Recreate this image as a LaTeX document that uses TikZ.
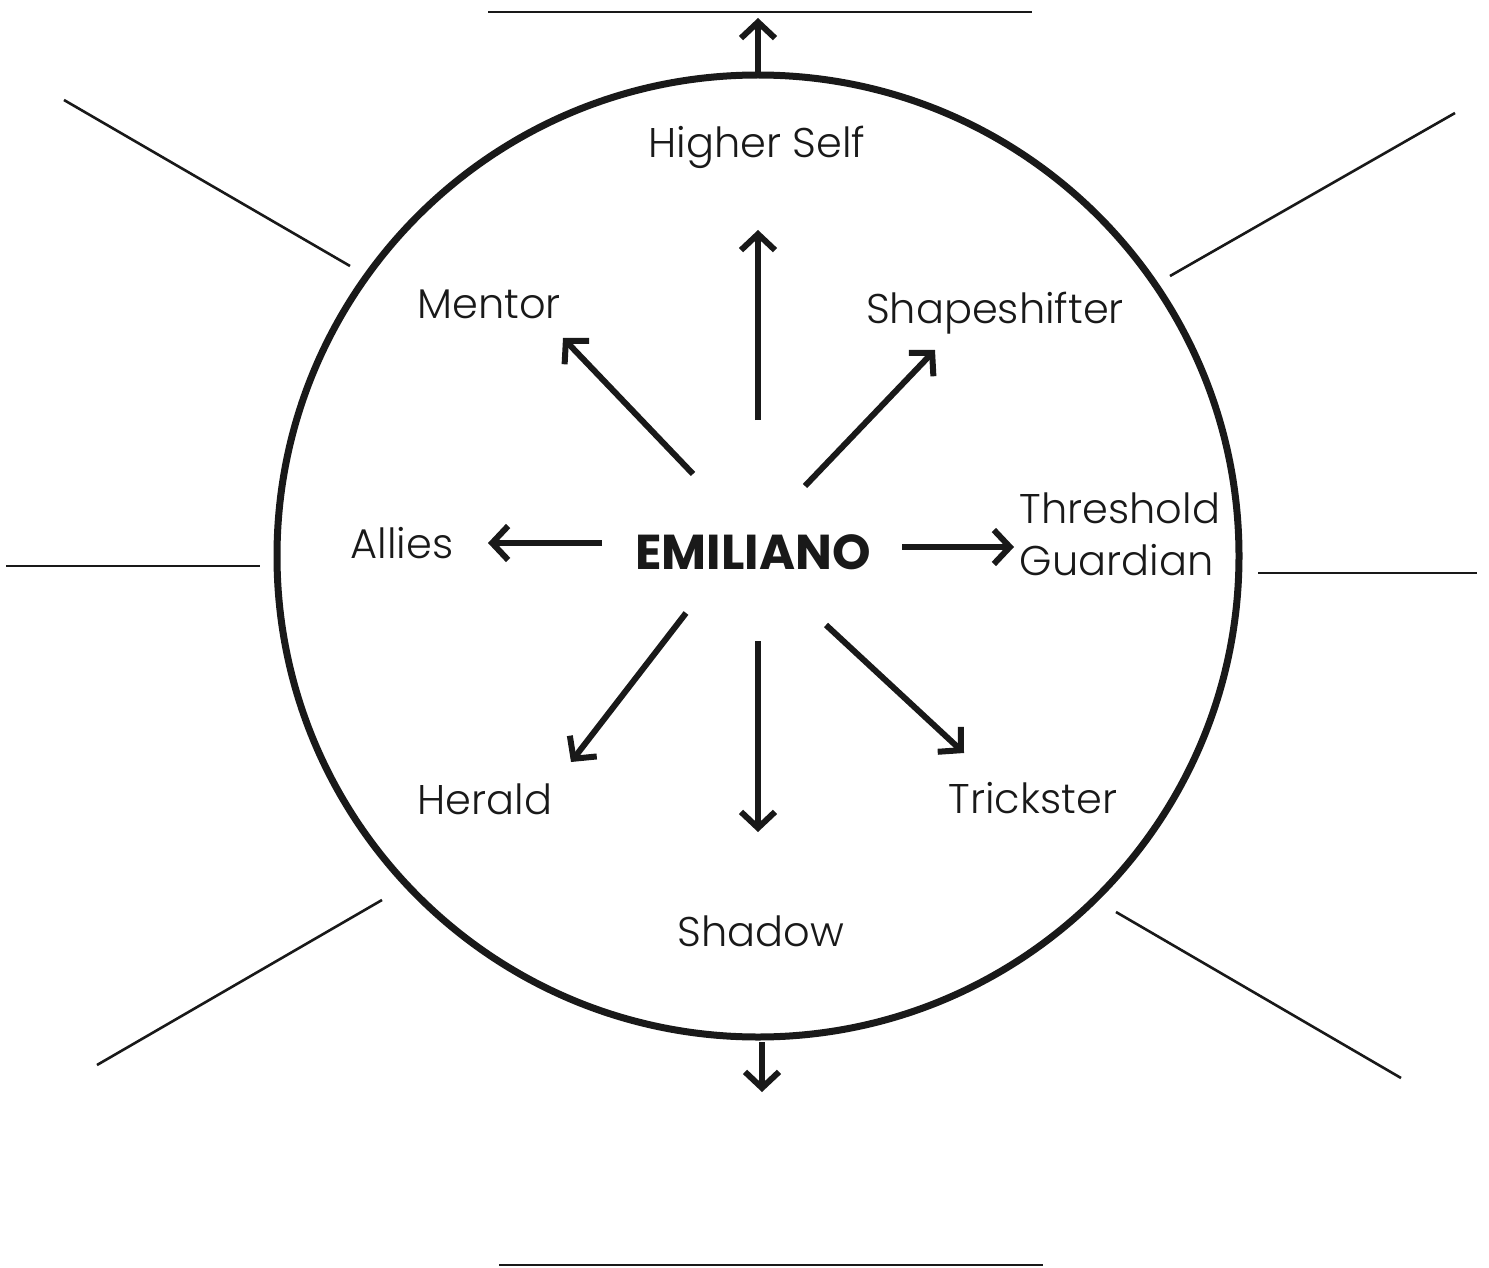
\documentclass[tikz,border=0pt]{standalone}
\usepackage{fontspec}
\setmainfont{Poppins}[UprightFont={* Light}, BoldFont={* Bold}]
\usetikzlibrary{arrows.meta}
\begin{document}
\begin{tikzpicture}[x=1pt,y=-1pt,
  thin line/.style={line width=2.6pt, draw=black!90},
  ray/.style={line width=6pt, draw=black!90, -{Straight Barb[length=16pt,width=34pt,line join=miter,line cap=butt]}},
  lbl/.style={font=\fontsize{41.5}{52}\selectfont, text=black!90, inner sep=0pt},
]
\useasboundingbox (0,0) rectangle (1489,1268);
\node[draw=black!90, line width=7pt, circle, minimum size=962pt, inner sep=0pt] (c) at (758,556) {};
% outer lines
\draw[thin line] (488,12) coordinate (t1) -- (1032,12) coordinate (t2);
\draw[thin line] (499,1265) coordinate (b1) -- (1043,1265) coordinate (b2);
\draw[thin line] (64,100) coordinate (ul1) -- (350,266) coordinate (ul2);
\draw[thin line] (1455,113) coordinate (ur1) -- (1170,276) coordinate (ur2);
\draw[thin line] (6,566) coordinate (l1) -- (260,566) coordinate (l2);
\draw[thin line] (1258,573) coordinate (r1) -- (1477,573) coordinate (r2);
\draw[thin line] (382,900) coordinate (ll1) -- (97,1065) coordinate (ll2);
\draw[thin line] (1116,912) coordinate (lr1) -- (1401,1078) coordinate (lr2);
% outer arrows
\coordinate (ta0) at (758,72); \coordinate (ta1) at (758,18);
\coordinate (ba0) at (762,1042); \coordinate (ba1) at (762,1092);
\draw[ray] (ta0) -- (ta1);
\draw[ray] (ba0) -- (ba1);
% labels
\node[lbl, font=\bfseries\fontsize{49}{52}\selectfont] (hero) at (753,552) {EMILIANO};
\node[lbl] (higher) at (757,147) {Higher Self};
\node[lbl] (mentor) at (489,304) {Mentor};
\node[lbl] (shape) at (995,313) {Shapeshifter};
\node[lbl] (allies) at (402,543) {Allies};
\node[lbl, align=left] (thresh) at (1120,534) {Threshold\\Guardian};
\node[lbl] (herald) at (485,799) {Herald};
\node[lbl] (trick) at (1033,798) {Trickster};
\node[lbl] (shadow) at (761,931) {Shadow};
% inner arrows
\coordinate (u0) at (758,420); \coordinate (u1) at (758,230);
\coordinate (m0) at (693,474); \coordinate (m1) at (563,338);
\coordinate (s0) at (805,486); \coordinate (s1) at (935,350);
\coordinate (a0) at (602,543); \coordinate (a1) at (488,543);
\coordinate (g0) at (902,547); \coordinate (g1) at (1014,547);
\coordinate (h0) at (686,613); \coordinate (h1) at (571,762);
\coordinate (d0) at (758,641); \coordinate (d1) at (758,832);
\coordinate (k0) at (826,625); \coordinate (k1) at (964,753);
\draw[ray] (u0) -- (u1);
\draw[ray] (m0) -- (m1);
\draw[ray] (s0) -- (s1);
\draw[ray] (a0) -- (a1);
\draw[ray] (g0) -- (g1);
\draw[ray] (h0) -- (h1);
\draw[ray] (d0) -- (d1);
\draw[ray] (k0) -- (k1);
\end{tikzpicture}
\end{document}
